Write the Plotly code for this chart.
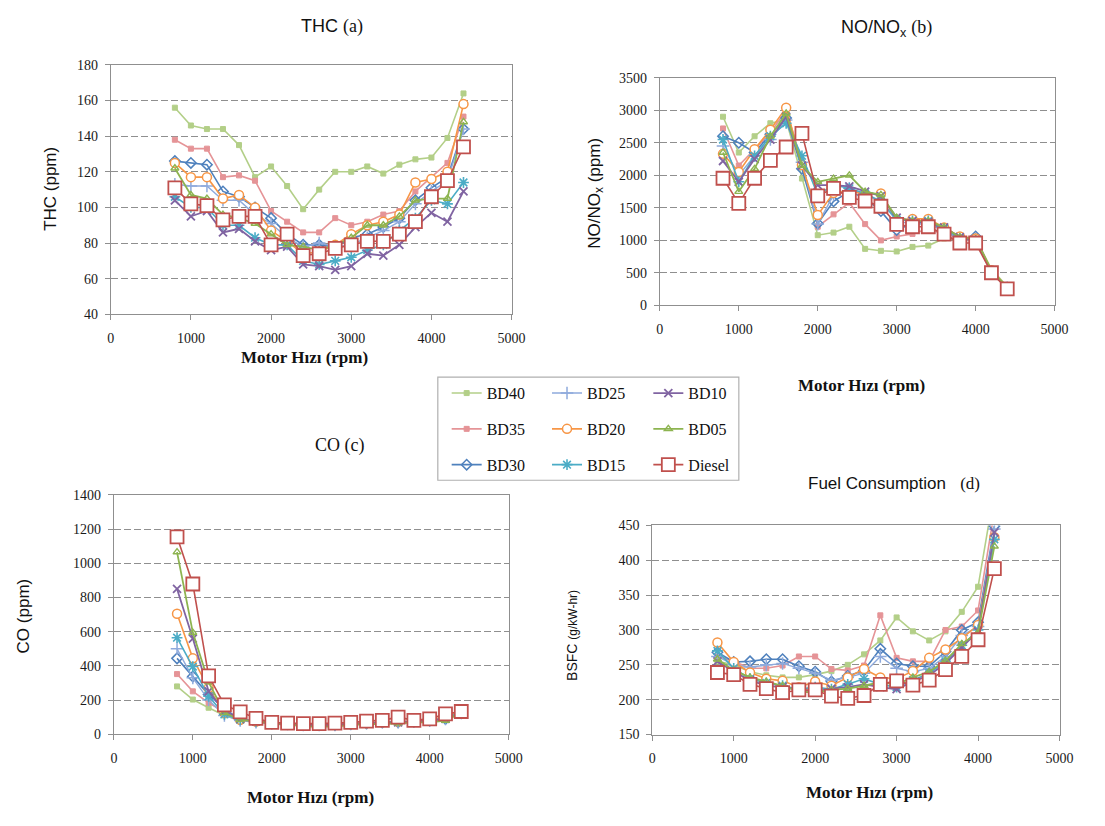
import plotly.graph_objects as go

W, H = 1105, 826

rpm = [800, 1000, 1200, 1400, 1600, 1800, 2000, 2200, 2400, 2600, 2800, 3000,
       3200, 3400, 3600, 3800, 4000, 4200, 4400]
rpm_bsfc = rpm[:-1]

series_names = ["BD40", "BD35", "BD30", "BD25", "BD20", "BD15", "BD10", "BD05", "Diesel"]

# THC (ppm)
thc_BD40 = [156, 146, 144, 144, 135, 117, 123, 112, 99, 110, 120, 120, 123, 119, 124, 127, 128, 139, 164]
thc_BD35 = [138, 133, 133, 117, 118, 115, 98, 92, 86, 86, 94, 90, 92, 96, 98, 109, 117, 125, 151]
thc_BD30 = [126, 125, 124, 109, 106, 100, 94, 85, 79, 79, 78, 83, 85, 89, 94, 104, 111, 117, 144]
thc_BD25 = [113, 112, 112, 104, 104, 96, 91, 83, 78, 80, 78, 79, 83, 87, 92, 102, 109, 115, 144]
thc_BD20 = [125, 117, 117, 105, 107, 100, 87, 81, 74, 75, 79, 85, 90, 92, 96, 114, 116, 120, 158]
thc_BD15 = [106, 100, 100, 90, 90, 83, 79, 79, 70, 68, 70, 72, 76, 79, 87, 94, 104, 102, 114]
thc_BD10 = [104, 95, 98, 86, 88, 81, 76, 78, 68, 67, 65, 67, 74, 73, 79, 89, 97, 92, 109]
thc_BD05 = [122, 107, 105, 96, 94, 91, 85, 79, 78, 76, 79, 83, 90, 90, 95, 104, 105, 105, 148]
thc_Diesel = [111, 102, 101, 93, 95, 95, 79, 85, 73, 74, 77, 79, 81, 81, 85, 92, 106, 115, 134]

# NO/NOx (ppm)
no_BD40 = [2900, 2350, 2600, 2800, 2850, 1950, 1080, 1120, 1210, 870, 840, 830, 900, 920, 1030, 1000, 1030, 560, 290]
no_BD35 = [2720, 2150, 2400, 2650, 3000, 2200, 1210, 1400, 1580, 1250, 1000, 1060, 1100, 1180, 1090, 1000, 1000, 530, 265]
no_BD30 = [2600, 2500, 2350, 2630, 2880, 2100, 1260, 1600, 1750, 1650, 1450, 1160, 1260, 1280, 1160, 1000, 1060, 510, 265]
no_BD25 = [2450, 2000, 2300, 2550, 2850, 2200, 1250, 1700, 1800, 1700, 1600, 1300, 1250, 1250, 1150, 1000, 1020, 520, 270]
no_BD20 = [2330, 2050, 2400, 2700, 3040, 2160, 1390, 1730, 1760, 1710, 1720, 1300, 1330, 1330, 1200, 1060, 1030, 540, 280]
no_BD15 = [2550, 1900, 2300, 2600, 2800, 2300, 1700, 1850, 1800, 1720, 1600, 1320, 1300, 1300, 1180, 1030, 1000, 520, 270]
no_BD10 = [2220, 1900, 2250, 2550, 2900, 2150, 1850, 1850, 1830, 1750, 1680, 1350, 1300, 1280, 1200, 1050, 1000, 520, 270]
no_BD05 = [2350, 1750, 2100, 2600, 2950, 2150, 1900, 1950, 2000, 1750, 1700, 1350, 1300, 1300, 1200, 1050, 1020, 540, 280]
no_Diesel = [1955, 1570, 1955, 2230, 2435, 2645, 1685, 1800, 1660, 1605, 1525, 1245, 1210, 1210, 1095, 960, 960, 503, 254]

# CO (ppm)
co_BD40 = [280, 203, 155, 110, 80, 70, 60, 55, 50, 50, 50, 55, 60, 60, 65, 70, 75, 85, 115]
co_BD35 = [352, 251, 184, 130, 85, 70, 65, 60, 55, 55, 55, 60, 65, 65, 70, 75, 80, 90, 120]
co_BD30 = [444, 338, 232, 150, 85, 75, 65, 60, 55, 55, 55, 60, 65, 70, 70, 75, 80, 90, 125]
co_BD25 = [500, 330, 200, 110, 80, 70, 65, 60, 55, 55, 55, 60, 65, 70, 70, 75, 80, 90, 125]
co_BD20 = [705, 444, 270, 125, 85, 75, 70, 60, 55, 55, 55, 60, 65, 70, 75, 75, 85, 100, 140]
co_BD15 = [565, 396, 222, 116, 85, 75, 65, 60, 55, 55, 55, 60, 65, 70, 75, 75, 80, 95, 130]
co_BD10 = [850, 560, 251, 135, 90, 75, 65, 60, 55, 55, 55, 60, 65, 70, 70, 75, 80, 90, 125]
co_BD05 = [1066, 595, 305, 125, 85, 75, 65, 60, 45, 45, 45, 55, 60, 60, 65, 70, 70, 80, 130]
co_Diesel = [1155, 879, 342, 172, 131, 93, 69, 65, 62, 62, 65, 69, 77, 81, 100, 81, 90, 119, 133]

# BSFC (g/kW-hr)
bsfc_BD40 = [255, 250, 240, 235, 232, 232, 236, 241, 250, 265, 285, 318, 298, 285, 298, 326, 362, 500]
bsfc_BD35 = [262, 255, 245, 245, 249, 262, 262, 244, 242, 249, 321, 260, 255, 255, 300, 305, 328, 470]
bsfc_BD30 = [268, 254, 255, 258, 258, 248, 240, 226, 234, 242, 273, 252, 248, 248, 269, 300, 311, 449]
bsfc_BD25 = [262, 250, 247, 250, 252, 245, 238, 228, 232, 238, 262, 245, 240, 245, 262, 292, 305, 445]
bsfc_BD20 = [282, 254, 239, 230, 227, 218, 226, 220, 232, 244, 232, 230, 241, 260, 272, 288, 307, 433]
bsfc_BD15 = [270, 245, 230, 224, 220, 215, 218, 215, 222, 230, 222, 218, 228, 238, 255, 278, 300, 430]
bsfc_BD10 = [255, 240, 228, 220, 218, 214, 212, 216, 218, 222, 218, 215, 226, 235, 252, 275, 298, 440]
bsfc_BD05 = [258, 242, 232, 226, 220, 212, 210, 214, 216, 220, 225, 222, 232, 240, 256, 280, 296, 420]
bsfc_Diesel = [239, 236, 222, 216, 210, 214, 214, 205, 202, 206, 222, 227, 221, 228, 243, 262, 286, 388]

thc = dict(BD40=thc_BD40, BD35=thc_BD35, BD30=thc_BD30, BD25=thc_BD25, BD20=thc_BD20,
           BD15=thc_BD15, BD10=thc_BD10, BD05=thc_BD05, Diesel=thc_Diesel)
no = dict(BD40=no_BD40, BD35=no_BD35, BD30=no_BD30, BD25=no_BD25, BD20=no_BD20,
          BD15=no_BD15, BD10=no_BD10, BD05=no_BD05, Diesel=no_Diesel)
co = dict(BD40=co_BD40, BD35=co_BD35, BD30=co_BD30, BD25=co_BD25, BD20=co_BD20,
          BD15=co_BD15, BD10=co_BD10, BD05=co_BD05, Diesel=co_Diesel)
bsfc = dict(BD40=bsfc_BD40, BD35=bsfc_BD35, BD30=bsfc_BD30, BD25=bsfc_BD25, BD20=bsfc_BD20,
            BD15=bsfc_BD15, BD10=bsfc_BD10, BD05=bsfc_BD05, Diesel=bsfc_Diesel)

styles = {
    "BD40": dict(color="#B3CF88", symbol="square", size=5, fill="#B3CF88", lw=1.6, mlw=1),
    "BD35": dict(color="#E59497", symbol="square", size=5, fill="#E59497", lw=1.6, mlw=1),
    "BD30": dict(color="#4F81BD", symbol="diamond-open", size=8, fill="#4F81BD", lw=1.6, mlw=1.5),
    "BD25": dict(color="#8EAADC", symbol="cross-thin", size=9, fill="#8EAADC", lw=1.4, mlw=1.5),
    "BD20": dict(color="#F79646", symbol="circle", size=9, fill="white", lw=1.6, mlw=1.5),
    "BD15": dict(color="#4BACC6", symbol="asterisk-open", size=9, fill="#4BACC6", lw=1.6, mlw=1.6),
    "BD10": dict(color="#8064A2", symbol="x-thin", size=8, fill="#8064A2", lw=1.8, mlw=1.8),
    "BD05": dict(color="#8DB450", symbol="triangle-up-open", size=7, fill="#8DB450", lw=1.8, mlw=1.4),
    "Diesel": dict(color="#C0504D", symbol="square", size=13, fill="white", lw=1.6, mlw=1.8),
}
legend_of = {"BD40": "legend", "BD35": "legend", "BD30": "legend",
             "BD25": "legend2", "BD20": "legend2", "BD15": "legend2",
             "BD10": "legend3", "BD05": "legend3", "Diesel": "legend3"}

panels = [(thc, rpm, "x", "y"), (no, rpm, "x2", "y2"), (co, rpm, "x3", "y3"), (bsfc, rpm_bsfc, "x4", "y4")]

fig = go.Figure()
for pi, (data, xs, xa, ya) in enumerate(panels):
    for name in series_names:
        s = styles[name]
        if s["fill"] == "white":
            mk = dict(symbol=s["symbol"], size=s["size"], color="white",
                      line=dict(color=s["color"], width=s["mlw"]))
        else:
            mk = dict(symbol=s["symbol"], size=s["size"], color=s["fill"],
                      line=dict(color=s["color"], width=s["mlw"]))
        fig.add_trace(go.Scatter(
            x=xs, y=data[name], xaxis=xa, yaxis=ya, mode="lines+markers", name=name,
            line=dict(color=s["color"], width=s["lw"]), marker=mk,
            legend=legend_of[name], legendgroup=name, showlegend=(pi == 0)))

def px_x(p):
    return p / W

def px_y(p):
    return 1 - p / H

tickfont = dict(family="Liberation Serif", size=14, color="#1a1a1a")
gridc = "#8f8f8f"

def xax(x0, x1, y_anchor):
    return dict(domain=[px_x(x0), px_x(x1)], range=[0, 5000], dtick=1000, tick0=0,
                showgrid=False, zeroline=False, showline=True, mirror=True,
                linecolor=gridc, linewidth=1, ticks="outside", ticklen=5, tickcolor=gridc,
                tickfont=tickfont, anchor=y_anchor, ticklabelstandoff=6, fixedrange=True)

def yax(y0, y1, lo, hi, dt, x_anchor):
    return dict(domain=[px_y(y0), px_y(y1)], range=[lo, hi], dtick=dt, tick0=lo,
                showgrid=True, gridcolor=gridc, gridwidth=1.2, griddash="7px,3px",
                zeroline=False, showline=True, mirror=True,
                linecolor=gridc, linewidth=1, ticks="outside", ticklen=5, tickcolor=gridc,
                tickfont=tickfont, anchor=x_anchor, ticklabelstandoff=4, fixedrange=True)

serif = "Liberation Serif"
sans = "Liberation Sans"

legend_common = dict(yanchor="top", xanchor="left", bgcolor="rgba(0,0,0,0)",
                     font=dict(family=serif, size=16, color="#111111"),
                     tracegroupgap=12, borderwidth=0, itemwidth=30,
                     orientation="v")
legend_top = px_y(376)

fig.update_layout(
    width=W, height=H, margin=dict(l=0, r=0, t=0, b=0),
    paper_bgcolor="white", plot_bgcolor="white",
    xaxis=xax(108.5, 516, "y"), yaxis=yax(313, 59, 40, 180, 20, "x"),
    xaxis2=xax(666.7, 1068, "y2"), yaxis2=yax(304, 72, 0, 3500, 500, "x2"),
    xaxis3=xax(111.7, 513, "y3"), yaxis3=yax(740.7, 497, 0, 1400, 200, "x3"),
    xaxis4=xax(659, 1073, "y4"), yaxis4=yax(741, 528, 150, 450, 50, "x4"),
    legend=dict(x=px_x(450), y=legend_top, **legend_common),
    legend2=dict(x=px_x(552), y=legend_top, **legend_common),
    legend3=dict(x=px_x(655), y=legend_top, **legend_common),
    showlegend=True,
)

fig.add_shape(type="rect", xref="paper", yref="paper",
              x0=px_x(441), x1=px_x(747), y0=px_y(482), y1=px_y(377),
              line=dict(color="#b0b0b0", width=1.2), layer="below")

def ann(text, x, y, size, family, angle=0):
    fig.add_annotation(text=text, x=px_x(x), y=px_y(y), xref="paper", yref="paper",
                       xanchor="center", yanchor="middle", showarrow=False, textangle=angle,
                       font=dict(family=family, size=size, color="#111111"))

serif_span = '<span style="font-family:Liberation Serif">%s</span>'

ann("THC " + serif_span % "(a)", 333, 20, 18, sans)
ann("NO/NO<sub>x</sub> " + serif_span % "(b)", 897, 22, 18, sans)
ann("CO (c)", 341, 447, 18, serif)
ann("Fuel Consumption   " + serif_span % "(d)", 905, 485, 17, sans)

ann("THC (ppm)", 47, 185, 17, sans, angle=-90)
ann("NO/NO<sub>x</sub> (ppm)", 601, 190, 17, sans, angle=-90)
ann("CO (ppm)", 20, 620, 17, sans, angle=-90)
ann('BSFC <span style="font-size:12px">(g/kW-hr)</span>', 578, 640, 14, sans, angle=-90)

for (cx, cy) in [(305, 357), (872, 385), (312, 805), (880, 800)]:
    ann("<b>Motor Hızı (rpm)</b>", cx, cy, 17, serif)

fig.write_html("out.html")
